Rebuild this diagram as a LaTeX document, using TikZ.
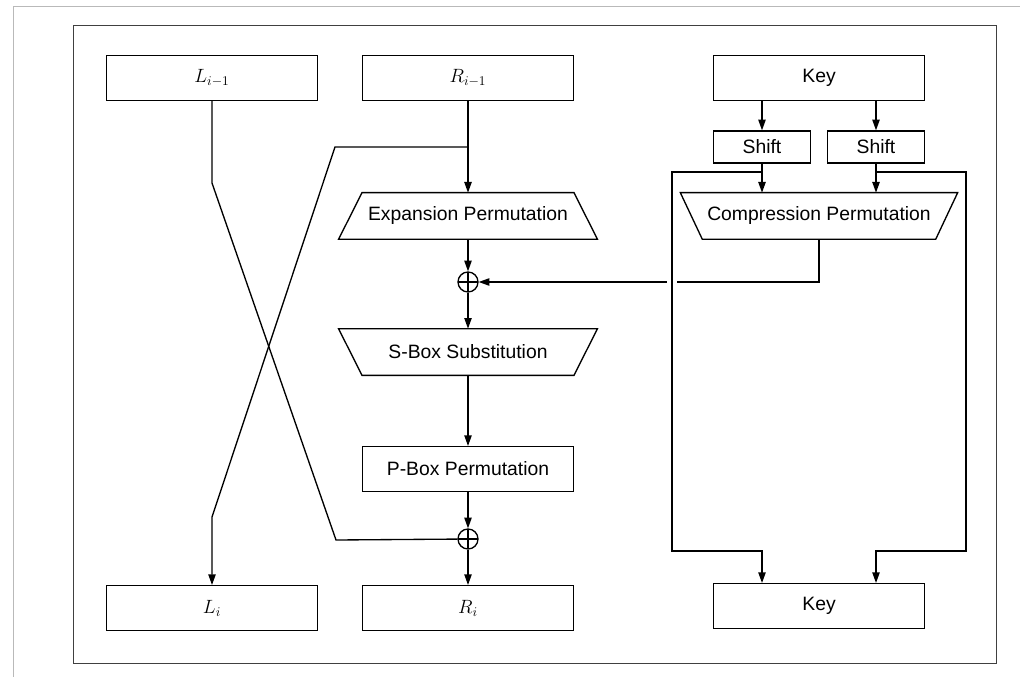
\documentclass[tikz,border=0pt]{standalone}
\usepackage{fontspec}
\setmainfont{Liberation Sans}
\usetikzlibrary{positioning,arrows.meta}

\begin{document}
\begin{tikzpicture}[
      x=0.75pt, y=-0.75pt,
      line width=1pt,
      every node/.style = {font=\fontsize{14.5}{17}\selectfont},
      halfbox/.style  = {rectangle, draw, minimum width=158pt,
                         minimum height=33.5pt, inner sep=0pt},
      shiftbox/.style = {rectangle, draw, minimum width=72.5pt,
                         minimum height=24pt, inner sep=0pt},
      trapbody/.style = {rectangle, minimum height=34pt, inner sep=0pt},
      xorop/.style    = {circle, draw, minimum size=15pt, inner sep=0pt,
                         path picture={\draw
                           (path picture bounding box.north) -- (path picture bounding box.south)
                           (path picture bounding box.west) -- (path picture bounding box.east);}},
      arrow/.style    = {-{Triangle[length=8pt,width=5.5pt]}},
      halo/.style     = {preaction={draw=white, line width=7pt, -}}
    ]
    % frame
    \useasboundingbox (0,0) rectangle (1020,677);
    \draw[gray!55, line width=0.6pt] (13,677) -- (13,6) -- (1020,6);
    \draw[black!75, line width=0.7pt] (73,25) rectangle (996,663);

    % data halves
    \node[halfbox] (Lprev) at (212,78)  {$L_{i-1}$};
    \node[halfbox] (Rprev) at (468,78)  {$R_{i-1}$};
    \node[halfbox] (Lnext) at (212,608) {$L_i$};
    \node[halfbox] (Rnext) at (468,608) {$R_i$};

    % key schedule
    \node[halfbox]  (keyin)  at (819,78)  {Key};
    \node[shiftbox] (shiftA) at (762,147) {Shift};
    \node[shiftbox] (shiftB) at (876,147) {Shift};
    \node[trapbody, minimum width=174pt] (cmp) at (819,216) {Compression Permutation};
    \node[halfbox]  (keyout) at (819,606) {Key};

    % round function
    \node[trapbody, minimum width=158pt] (exp) at (468,216) {Expansion Permutation};
    \node[xorop] (xorA) at (468,282) {};
    \node[trapbody, minimum width=158pt] (sbx) at (468,352) {S-Box Substitution};
    \node[halfbox] (pbox) at (468,469) {P-Box Permutation};
    \node[xorop] (xorB) at (468,539) {};

    % trapezium outlines
    \draw (exp.north west) -- (exp.north east) -- ([xshift=17.6pt]exp.south east)
          -- ([xshift=-17.6pt]exp.south west) -- cycle;
    \draw ([xshift=-17.6pt]sbx.north west) -- ([xshift=17.6pt]sbx.north east)
          -- (sbx.south east) -- (sbx.south west) -- cycle;
    \draw ([xshift=-16.5pt]cmp.north west) -- ([xshift=16.5pt]cmp.north east)
          -- (cmp.south east) -- (cmp.south west) -- cycle;

    % key schedule flow
    \draw[arrow] (keyin.south -| shiftA) -- (shiftA);
    \draw[arrow] (keyin.south -| shiftB) -- (shiftB);
    \coordinate (tapA) at (762,172);
    \coordinate (tapB) at (876,172);
    \draw[arrow] (cmp.south) |- (xorA);
    \draw[arrow, halo] (tapA) -- ++(-90,0) -- ++(0,379) -| (keyout.north -| shiftA);
    \draw[arrow] (tapB) -- ++(90,0) -- ++(0,379) -| (keyout.north -| shiftB);
    \draw[arrow] (shiftA) -- (shiftA |- cmp.north);
    \draw[arrow] (shiftB) -- (shiftB |- cmp.north);

    % round flow
    \coordinate (split) at (468,147);
    \draw[arrow] (Rprev) -- (exp);
    \draw[arrow] (split) -- ++(-133,0) -- ++(-123,370) -- (Lnext);
    \draw (Lprev.south) -- ++(0,82) -- ++(124,357) -- (xorB);
    \draw[arrow] (exp)  -- (xorA);
    \draw[arrow] (xorA) -- (sbx);
    \draw[arrow] (sbx)  -- (pbox);
    \draw[arrow] (pbox) -- (xorB);
    \draw[arrow] (xorB) -- (Rnext);
\end{tikzpicture}
\end{document}
